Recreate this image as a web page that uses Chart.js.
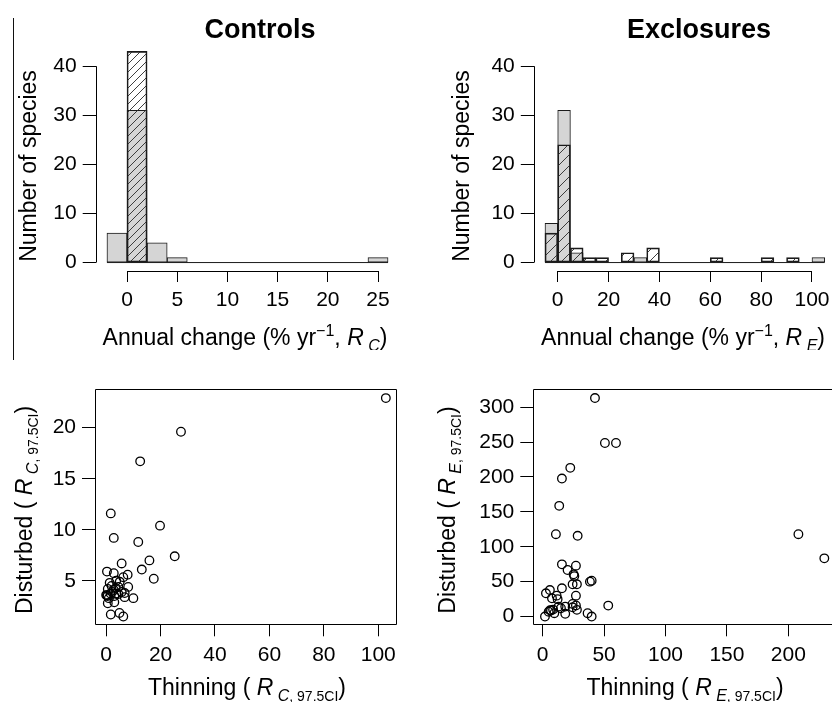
<!DOCTYPE html>
<html>
<head>
<meta charset="utf-8">
<title>Controls / Exclosures</title>
<script src="https://cdn.jsdelivr.net/npm/chart.js@4.4.1/dist/chart.umd.min.js"></script>
<style>
  html, body { margin: 0; padding: 0; background: #fff; width: 832px; height: 702px; overflow: hidden; }
  canvas { position: absolute; }
  #edge { position: absolute; left: 13px; top: 18px; height: 342px; border-left: 1.5px solid #111; }
</style>
</head>
<body>
<div id="edge"></div>
<canvas id="histC" width="416" height="350" style="left:0;top:0"></canvas>
<canvas id="histE" width="440" height="350" style="left:416px;top:0"></canvas>
<canvas id="scatC" width="416" height="357" style="left:0;top:345px"></canvas>
<canvas id="scatE" width="440" height="357" style="left:416px;top:345px"></canvas>
<script>
// Histograms: bin edges (% per yr) and number of species per bin
const binEdgesC = [-2, 0, 2, 4, 6, 8, 10, 12, 14, 16, 18, 20, 22, 24, 26];
const greyCountsC = [6, 31, 4, 1, 0, 0, 0, 0, 0, 0, 0, 0, 0, 1];
const hatchCountsC = [0, 43, 0, 0, 0, 0, 0, 0, 0, 0, 0, 0, 0, 0];

const binEdgesE = [-5, 0, 5, 10, 15, 20, 25, 30, 35, 40, 45, 50, 55, 60, 65, 70, 75, 80, 85, 90, 95, 100, 105];
const greyCountsE = [8, 31, 2, 0, 0, 0, 0, 1, 0, 0, 0, 0, 0, 0, 0, 0, 0, 0, 0, 0, 0, 1];
const hatchCountsE = [6, 24, 3, 1, 1, 0, 2, 0, 3, 0, 0, 0, 0, 1, 0, 0, 0, 1, 0, 1, 0, 0];

const histYLim = [0, 43];
const histYTicks = [0, 10, 20, 30, 40];
const histXTicksC = [0, 5, 10, 15, 20, 25];
const histXTicksE = [0, 20, 40, 60, 80, 100];

// Scatter: thinning vs disturbed (upper 97.5% CI of annual change)
const thinC = [102.8, 27.5, 12.5, 1.7, 19.8, 2.8, 11.8, 25.2, 15.9, 5.7, 13.1, 17.5, 0.3, 2.8, 7.9,
  6.3, 3.7, 1.3, 8.1, 4.5, 0.6, 2.8, 5.7, 0.3, 1.6, 3.7, 6.8, 0.5, 6.8, 10.0, 0.0, 3.0, 0.6, 3.0,
  1.7, 4.9, 6.3, 2.0, 4.5, 1.0, 3.5, 2.2, 5.0];
const distC = [22.9, 19.6, 16.7, 11.6, 10.4, 9.2, 8.8, 7.4, 7.0, 6.7, 6.1, 5.2, 5.9, 5.75, 5.6,
  5.35, 5.0, 4.8, 4.4, 4.4, 4.2, 4.1, 3.9, 3.6, 3.75, 3.75, 3.8, 3.5, 3.4, 3.3, 3.6, 3.5, 2.8, 2.9,
  1.7, 1.85, 1.5, 4.5, 3.7, 3.3, 4.3, 3.9, 4.9];
const thinE = [42.6, 50.7, 59.7, 22.5, 15.7, 13.5, 10.8, 28.5, 208.2, 229.3, 15.7, 27.1, 20.3, 25.2,
  25.8, 38.5, 39.9, 24.4, 27.9, 15.7, 5.9, 2.7, 27.1, 11.4, 7.6, 12.2, 53.4, 13.0, 18.4, 24.4, 27.1,
  27.9, 4.9, 6.8, 9.5, 18.4, 36.6, 39.9, 1.9, 14.9, 24.4, 8.5, 6.0];
const distE = [313, 248.6, 248.6, 213, 197.7, 158.6, 118, 115.7, 118, 83.4, 74.8, 72.9, 66.7, 60.5,
  58, 50, 51.4, 46.2, 46.2, 40.5, 38, 33.3, 30, 30, 26.2, 24.8, 15.7, 14.3, 14.3, 13.3, 16,
  9.6, 7, 8.6, 4.8, 4, 4.8, 0, 0, 12, 18, 10, 9];

const scatXTicksC = [0, 20, 40, 60, 80, 100];
const scatYTicksC = [5, 10, 15, 20];
const scatXTicksE = [0, 50, 100, 150, 200];
const scatYTicksE = [0, 50, 100, 150, 200, 250, 300];

const FAM = '"Liberation Sans", Arial, Helvetica, sans-serif';
const f = (s, st) => (st ? st + ' ' : '') + s + 'px ' + FAM;
const TS = 23;   // axis title size
const TICK = 21; // tick label size

function annualTitle(letter) {
  return [
    { t: 'Annual change (% yr', font: f(TS) },
    { t: '\u22121', font: f(16), dy: -9 },
    { t: ', ', font: f(TS) },
    { t: 'R', font: f(TS, 'italic') },
    { t: ' ' + letter, font: f(16, 'italic'), dy: 6 },
    { t: ')', font: f(TS) }
  ];
}
function ciTitle(word, letter) {
  return [
    { t: word + ' ( ', font: f(TS) },
    { t: 'R', font: f(TS, 'italic') },
    { t: ' ' + letter, font: f(16, 'italic'), dy: 6 },
    { t: ', 97.5CI', font: f(14), dy: 6 },
    { t: ')', font: f(TS) }
  ];
}

function drawRich(ctx, t) {
  ctx.save();
  ctx.translate(t.x, t.y);
  if (t.rot) ctx.rotate(t.rot);
  ctx.textBaseline = 'alphabetic';
  ctx.textAlign = 'left';
  let w = 0;
  t.parts.forEach(p => { ctx.font = p.font; w += ctx.measureText(p.t).width; });
  let x = -w / 2;
  const base = (t.size || TS) * 0.36;
  t.parts.forEach(p => {
    ctx.font = p.font;
    ctx.fillText(p.t, x, base + (p.dy || 0));
    x += ctx.measureText(p.t).width;
  });
  ctx.restore();
}

// axis lines (R style) or full box, plus titles
const deco = {
  id: 'deco',
  afterDatasetsDraw(chart, args, o) {
    const ctx = chart.ctx, a = chart.chartArea, sx = chart.scales.x, sy = chart.scales.y;
    ctx.save();
    ctx.strokeStyle = '#000';
    ctx.lineWidth = 1;
    ctx.beginPath();
    if (o.box) {
      ctx.rect(Math.round(a.left) + 0.5, Math.round(a.top) + 0.5,
        Math.round(a.right - a.left) - 1, Math.round(a.bottom - a.top) - 1);
    } else {
      const xt = sx.ticks, yt = sy.ticks;
      const yb = Math.round(a.bottom) + 0.5, xl = Math.round(a.left) + 0.5;
      ctx.moveTo(sx.getPixelForValue(xt[0].value), yb);
      ctx.lineTo(sx.getPixelForValue(xt[xt.length - 1].value), yb);
      ctx.moveTo(xl, sy.getPixelForValue(yt[0].value));
      ctx.lineTo(xl, sy.getPixelForValue(yt[yt.length - 1].value));
    }
    ctx.stroke();
    ctx.fillStyle = '#000';
    (o.texts || []).forEach(t => drawRich(ctx, t));
    ctx.restore();
  }
};

function hatchPattern(ctx, step) {
  const c = document.createElement('canvas');
  c.width = step; c.height = step;
  const g = c.getContext('2d');
  g.strokeStyle = '#2a2a2a';
  g.lineWidth = 0.9;
  g.beginPath();
  g.moveTo(-1, step + 1); g.lineTo(step + 1, -1);
  g.moveTo(-1, 1); g.lineTo(1, -1);
  g.moveTo(step - 1, step + 1); g.lineTo(step + 1, step - 1);
  g.stroke();
  return ctx.createPattern(c, 'repeat');
}

function axes(xr, yr, xTicks, yTicks, g, xH) {
  const tickFont = { family: FAM, size: TICK };
  return {
    x: {
      type: 'linear', min: xr[0], max: xr[1], offset: false,
      afterBuildTicks: s => { s.ticks = xTicks.map(v => ({ value: v })); },
      afterFit: s => { s.height = xH; },
      grid: { drawOnChartArea: false, tickLength: 11, color: '#000', offset: false },
      border: { display: false },
      ticks: { color: '#000', font: tickFont, padding: 6, maxRotation: 0, autoSkip: false }
    },
    y: {
      type: 'linear', min: yr[0], max: yr[1],
      afterBuildTicks: s => { s.ticks = yTicks.map(v => ({ value: v })); },
      afterFit: s => { s.width = g.left; },
      grid: { drawOnChartArea: false, tickLength: 13, color: '#000' },
      border: { display: false },
      ticks: { color: '#000', font: tickFont, padding: 6, autoSkip: false }
    }
  };
}

function padding(el, g, xH) {
  return { left: 0, top: g.top, right: el.width - g.right, bottom: el.height - g.bottom - xH };
}

function histChart(id, edges, grey, hatch, xTicks, step, g, texts) {
  const el = document.getElementById(id);
  const ctx = el.getContext('2d');
  const mids = grey.map((_, i) => (edges[i] + edges[i + 1]) / 2);
  const span = edges[edges.length - 1] - edges[0];
  const yspan = histYLim[1] - histYLim[0];
  const xr = [edges[0] - 0.04 * span, edges[edges.length - 1] + 0.04 * span];
  const yr = [histYLim[0] - 0.04 * yspan, histYLim[1] + 0.04 * yspan];
  const xH = 50;
  return new Chart(el, {
    type: 'bar',
    data: {
      datasets: [
        { data: mids.map((m, i) => ({ x: m, y: hatch[i] })), backgroundColor: hatchPattern(ctx, step),
          borderColor: '#1a1a1a', borderWidth: 1, borderSkipped: false, grouped: false,
          barPercentage: 1, categoryPercentage: 1 },
        { data: mids.map((m, i) => ({ x: m, y: grey[i] })), backgroundColor: '#d5d5d5',
          borderColor: '#1a1a1a', borderWidth: 1, borderSkipped: false, grouped: false,
          barPercentage: 1, categoryPercentage: 1 },
        { type: 'line', data: [{ x: edges[0], y: 0 }, { x: edges[edges.length - 1], y: 0 }],
          borderColor: '#1a1a1a', borderWidth: 1, pointRadius: 0 }
      ]
    },
    options: {
      responsive: false, animation: false,
      layout: { padding: padding(el, g, xH) },
      scales: axes(xr, yr, xTicks, histYTicks, g, xH),
      plugins: { legend: { display: false }, tooltip: { enabled: false }, deco: { texts } }
    },
    plugins: [deco]
  });
}

function scatChart(id, xs, ys, xr, yr, xTicks, yTicks, g, texts) {
  const el = document.getElementById(id);
  const xH = 50;
  return new Chart(el, {
    type: 'scatter',
    data: {
      datasets: [{ data: xs.map((x, i) => ({ x, y: ys[i] })), pointStyle: 'circle', pointRadius: 4.3,
        borderColor: '#000', borderWidth: 1.3, backgroundColor: 'rgba(0,0,0,0)' }]
    },
    options: {
      responsive: false, animation: false,
      layout: { padding: padding(el, g, xH) },
      scales: axes(xr, yr, xTicks, yTicks, g, xH),
      plugins: { legend: { display: false }, tooltip: { enabled: false }, deco: { box: true, texts } }
    },
    plugins: [deco]
  });
}

histChart('histC', binEdgesC, greyCountsC, hatchCountsC, histXTicksC, 8,
  { left: 95.7, right: 399.3, top: 43, bottom: 271 },
  [
    { parts: [{ t: 'Controls', font: f(27, 'bold') }], x: 260, y: 28, size: 27 },
    { parts: annualTitle('C'), x: 245, y: 337 },
    { parts: [{ t: 'Number of species', font: f(TS) }], x: 28, y: 166, rot: -Math.PI / 2 }
  ]);

histChart('histE', binEdgesE, greyCountsE, hatchCountsE, histXTicksE, 11,
  { left: 117.8, right: 419.9, top: 43, bottom: 271 },
  [
    { parts: [{ t: 'Exclosures', font: f(27, 'bold') }], x: 283, y: 28, size: 27 },
    { parts: annualTitle('E'), x: 267, y: 337 },
    { parts: [{ t: 'Number of species', font: f(TS) }], x: 45, y: 166, rot: -Math.PI / 2 }
  ]);

scatChart('scatC', thinC, distC, [-4.1, 106.9], [0.64, 23.76], scatXTicksC, scatYTicksC,
  { left: 95, right: 397, top: 44.3, bottom: 280.3 },
  [
    { parts: ciTitle('Thinning', 'C'), x: 247, y: 342 },
    { parts: ciTitle('Disturbed', 'C'), x: 24, y: 165, rot: -Math.PI / 2 }
  ]);

scatChart('scatE', thinE, distE, [-7.6, 238.4], [-12.5, 325.5], scatXTicksE, scatYTicksE,
  { left: 117.3, right: 419.5, top: 44.3, bottom: 280.3 },
  [
    { parts: ciTitle('Thinning', 'E'), x: 269, y: 342 },
    { parts: ciTitle('Disturbed', 'E'), x: 31, y: 165, rot: -Math.PI / 2 }
  ]);
</script>
</body>
</html>
